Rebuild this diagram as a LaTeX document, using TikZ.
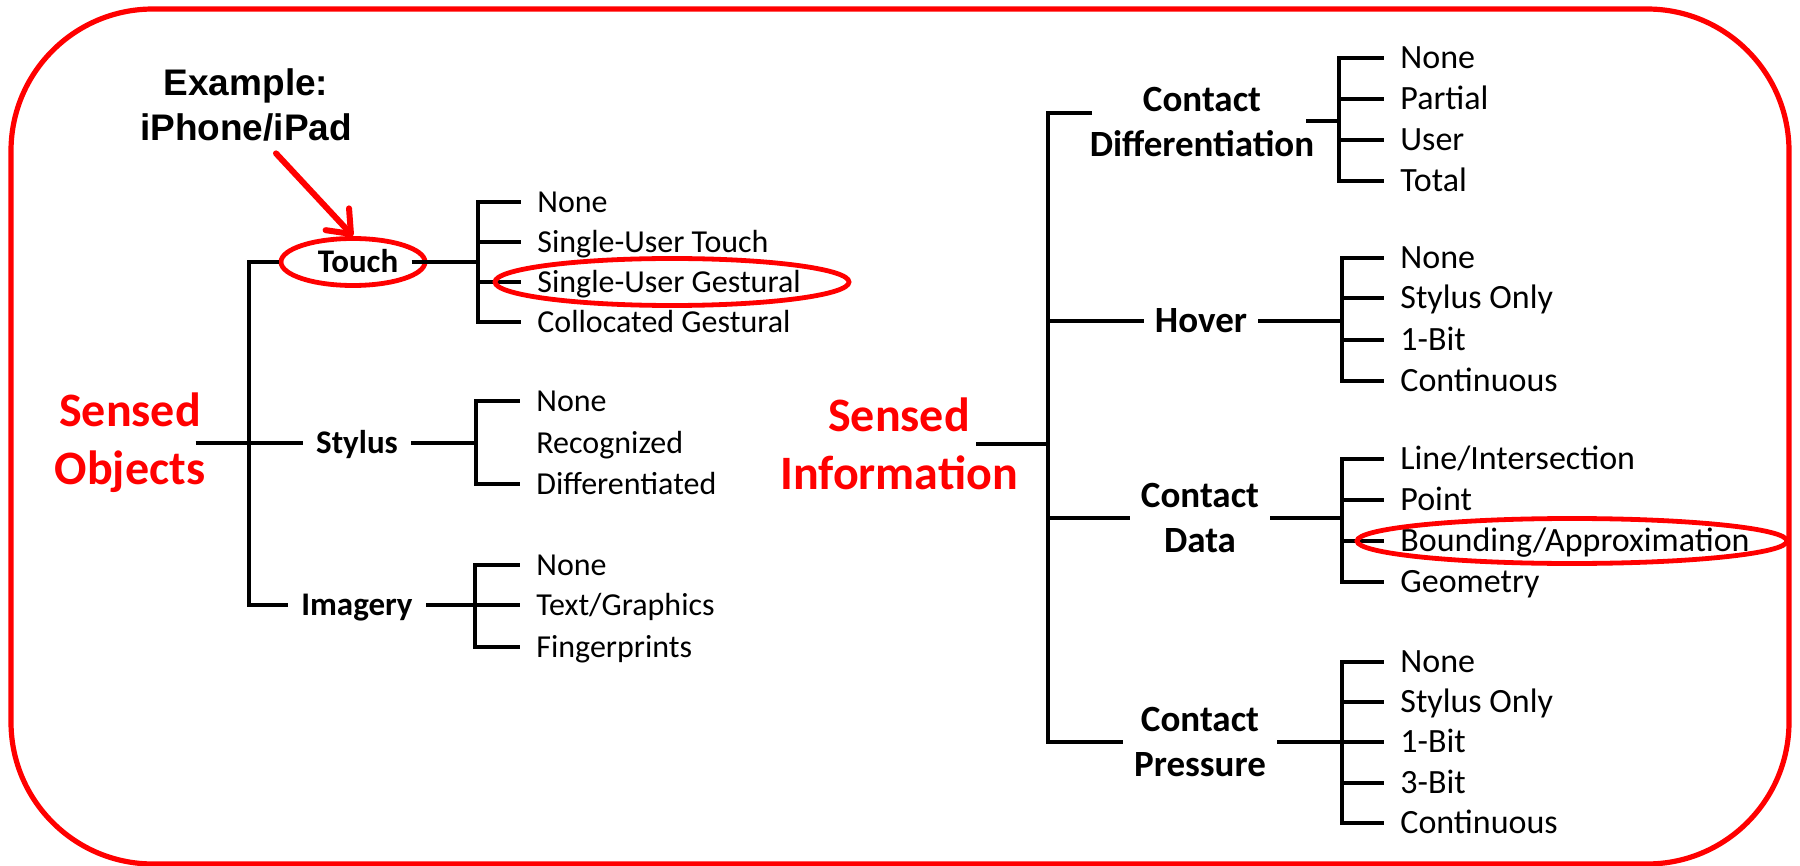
\documentclass[tikz,border=0pt]{standalone}
\usepackage{fontspec}
\setmainfont{Carlito}
\newfontfamily\arialfont{Liberation Sans}
\usetikzlibrary{arrows.meta,shapes.geometric}

\tikzset{
    frame/.style={draw=red, line width=2.6pt, rounded corners=71pt},
    ring/.style={draw=red, line width=2.4pt, ellipse, inner sep=0pt},
    pointer/.style={draw=red, line width=3pt, line cap=round, -{Straight Barb[length=10pt,width=16pt,round]}},
    branch/.style={line width=1.7pt},
    title/.style={text=red, font=\bfseries\fontsize{24}{28.8}\selectfont, align=center, inner sep=0pt},
    exlbl/.style={font=\arialfont\bfseries\fontsize{18.5}{22.2}\selectfont, align=center, inner sep=0pt},
    lbl/.style={font=\bfseries\fontsize{16.5}{19.8}\selectfont, inner xsep=6.5pt, inner ysep=0pt, text height=13.2pt, text depth=2.6pt},
    biglbl/.style={font=\bfseries\fontsize{18.5}{22.2}\selectfont, align=center, inner xsep=5.5pt, inner ysep=0pt},
    leaf/.style={anchor=west, font=\fontsize{16}{19.2}\selectfont, inner xsep=8pt, inner ysep=0pt, text height=12.8pt, text depth=2.6pt},
    rleaf/.style={leaf, font=\fontsize{17}{20.4}\selectfont, text height=13.6pt, text depth=2.7pt},
}

\begin{document}
\begin{tikzpicture}[x=0.5pt, y=-0.5pt]
        %\draw[color=lightgray] (0, 0) grid[step=100] (1800, 866);
        \useasboundingbox (0, 0) rectangle (1800, 866);
        \draw[frame] (11, 9) rectangle (1789, 864);
        % sensed objects
        \node[title] (sobj) at (130, 443) {Sensed\\Objects};
        \node[exlbl] (ex) at (246, 105) {Example:\\iPhone/iPad};
        \node[lbl] (touch) at (358, 262) {Touch};
        \node[ring, minimum width=72pt, minimum height=23.5pt] (touchring) at (353, 262) {};
        \node[lbl] (stylus) at (357, 443) {Stylus};
        \node[lbl] (imag) at (357, 605) {Imagery};
        \coordinate (lbot) at (249, 605);
        \draw[branch] (touchring.west) -| (lbot) -- (imag.west);
        \draw[branch] (stylus.west -| sobj.east) ++(-10, 0) -- (stylus.west);
        \draw[pointer] (ex.south) ++(30, 12) -- (touchring.north);
        % touch
        \coordinate (tb) at (478, 262);
        \node[leaf] (t1) at (521, 202) {None};
        \node[leaf] (t2) at (521, 242) {Single-User Touch};
        \node[leaf] (t3) at (521, 282) {Single-User Gestural};
        \node[leaf] (t4) at (521, 322) {Collocated Gestural};
        \draw[branch] (touch.east) -- (tb);
        \draw[branch] (tb) |- (t1.west) (tb) |- (t2.west) (tb) |- (t3.west) (tb) |- (t4.west);
        \node[ring, minimum width=177pt, minimum height=23.5pt] (gestring) at (672, 282) {};
        % stylus
        \coordinate (sb) at (476, 443);
        \node[leaf] (s1) at (520, 401) {None};
        \node[leaf] (s2) at (520, 443) {Recognized};
        \node[leaf] (s3) at (520, 484) {Differentiated};
        \draw[branch] (stylus.east) -- (sb);
        \draw[branch] (sb) |- (s1.west) (sb) |- (s3.west);
        % imagery
        \coordinate (ib) at (475, 605);
        \node[leaf] (i1) at (520, 565) {None};
        \node[leaf] (i2) at (520, 605) {Text/Graphics};
        \node[leaf] (i3) at (520, 647) {Fingerprints};
        \draw[branch] (imag.east) -- (ib);
        \draw[branch] (ib) |- (i1.west) (ib) |- (i2.west) (ib) |- (i3.west);
        % sensed information
        \node[title] (sinf) at (899, 444) {Sensed\\Information};
        \node[biglbl] (cdiff) at (1202, 122) {Contact\\Differentiation};
        \node[biglbl, text height=14.8pt, text depth=3pt] (hover) at (1201, 321) {Hover};
        \node[biglbl] (cdata) at (1200, 518) {Contact\\Data};
        \node[biglbl] (cpres) at (1200, 742) {Contact\\Pressure};
        \coordinate (rtop) at (1048, 113);
        \coordinate (rbot) at (1048, 742);
        \coordinate (cdin) at (1092, 113);
        \draw[branch] (cdin) -- (rtop) -- (rbot) -- (cpres.west);
        \draw[branch] (sinf.east) ++(-42, 0) -- (sinf.east -| rtop);
        \draw[branch] (hover.west -| rtop) -- (hover.west);
        \draw[branch] (cdata.west -| rtop) -- (cdata.west);
        % contact differentiation
        \coordinate (cdb) at (1339, 121);
        \node[rleaf] (d1) at (1384, 58) {None};
        \node[rleaf] (d2) at (1384, 99) {Partial};
        \node[rleaf] (d3) at (1384, 140) {User};
        \node[rleaf] (d4) at (1384, 181) {Total};
        \draw[branch] (cdb) -- ++(-33, 0);
        \draw[branch] (cdb) |- (d1.west) (cdb) |- (d2.west) (cdb) |- (d3.west) (cdb) |- (d4.west);
        % hover
        \coordinate (hb) at (1342, 321);
        \node[rleaf] (h1) at (1384, 258) {None};
        \node[rleaf] (h2) at (1384, 298) {Stylus Only};
        \node[rleaf] (h3) at (1384, 340) {1-Bit};
        \node[rleaf] (h4) at (1384, 381) {Continuous};
        \draw[branch] (hover.east) -- (hb);
        \draw[branch] (hb) |- (h1.west) (hb) |- (h2.west) (hb) |- (h3.west) (hb) |- (h4.west);
        % contact data
        \coordinate (cb) at (1342, 518);
        \node[rleaf] (c1) at (1384, 459) {Line/Intersection};
        \node[rleaf] (c2) at (1384, 500) {Point};
        \node[rleaf] (c3) at (1384, 541) {Bounding/Approximation};
        \node[rleaf] (c4) at (1384, 582) {Geometry};
        \draw[branch] (cdata.east) -- (cb);
        \draw[branch] (cb) |- (c1.west) (cb) |- (c2.west) (cb) |- (c3.west) (cb) |- (c4.west);
        \node[ring, minimum width=215pt, minimum height=22.5pt] (boundring) at (1572, 541) {};
        % contact pressure
        \coordinate (pb) at (1342, 742);
        \node[rleaf] (p1) at (1384, 662) {None};
        \node[rleaf] (p2) at (1384, 702) {Stylus Only};
        \node[rleaf] (p3) at (1384, 742) {1-Bit};
        \node[rleaf] (p4) at (1384, 783) {3-Bit};
        \node[rleaf] (p5) at (1384, 823) {Continuous};
        \draw[branch] (cpres.east) -- (pb);
        \draw[branch] (pb) |- (p1.west) (pb) |- (p2.west) (pb) |- (p3.west) (pb) |- (p4.west) (pb) |- (p5.west);
\end{tikzpicture}
\end{document}
